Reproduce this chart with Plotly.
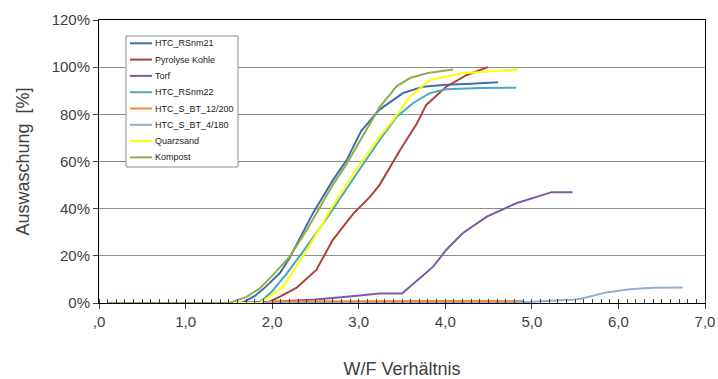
import plotly.graph_objects as go

# ---- data (x = W/F ratio, y = Auswaschung in %) ----
names = ["HTC_RSnm21", "Pyrolyse Kohle", "Torf", "HTC_RSnm22",
         "HTC_S_BT_12/200", "HTC_S_BT_4/180", "Quarzsand", "Kompost"]

htc21_x = [0.1, 1.65, 1.8, 1.9, 2.09, 2.2, 2.47, 2.7, 2.86, 3.03, 3.24, 3.51, 3.74, 4.01, 4.3, 4.61]
htc21_y = [0, 0, 3, 6, 12.7, 19, 38, 52, 60.6, 73, 82, 89, 91.7, 92.5, 93, 93.6]

pyro_x = [0.1, 1.94, 2.09, 2.28, 2.51, 2.7, 2.82, 2.94, 3.13, 3.24, 3.48, 3.67, 3.78, 4.01, 4.25, 4.49]
pyro_y = [0, 0, 2.7, 6.4, 14, 26.7, 32.4, 38, 45, 50, 65, 76, 84, 91.7, 96.7, 100]

torf_x = [0.1, 1.5, 2.0, 2.5, 2.86, 3.24, 3.5, 3.71, 3.86, 4.01, 4.2, 4.48, 4.82, 5.23, 5.47]
torf_y = [0, 0, 0.5, 1.5, 2.7, 4, 4, 10.6, 15.4, 22.5, 29.6, 36.6, 42.3, 47, 47]

htc22_x = [0.1, 1.85, 2.0, 2.17, 2.4, 2.67, 2.98, 3.24, 3.44, 3.63, 3.82, 4.01, 4.4, 4.82]
htc22_y = [0, 0, 5, 12.6, 24, 38, 55, 69, 79, 84.8, 89, 90.6, 91.2, 91.3]

bt12_x = [0.1, 1.9, 2.0, 3.0, 4.0, 4.9]
bt12_y = [0, 0, 0.6, 0.8, 0.8, 0.8]

bt4_x = [0.1, 4.6, 5.0, 5.3, 5.5, 5.59, 5.86, 6.13, 6.4, 6.74]
bt4_y = [0, 0, 0.5, 1.0, 1.5, 2, 4.5, 5.8, 6.5, 6.6]

quarz_x = [0.1, 1.86, 2.13, 2.4, 2.7, 2.94, 3.24, 3.4, 3.59, 3.82, 4.2, 4.84]
quarz_y = [0, 0, 7, 22.5, 41, 55, 70.5, 77.6, 87.5, 94.6, 97.4, 99]

kompost_x = [0.1, 1.5, 1.7, 1.85, 2.0, 2.2, 2.4, 2.55, 2.7, 2.86, 3.05, 3.24, 3.44, 3.6, 3.8, 4.09]
kompost_y = [0, 0, 2.5, 6, 11.5, 19.5, 31, 40.8, 50, 59, 71, 83, 92, 95.5, 97.5, 99]

xs = [htc21_x, pyro_x, torf_x, htc22_x, bt12_x, bt4_x, quarz_x, kompost_x]
ys = [htc21_y, pyro_y, torf_y, htc22_y, bt12_y, bt4_y, quarz_y, kompost_y]
colors = ["#3F6EAE", "#B0403D", "#7B5A9F", "#46A9C4", "#F08A3C", "#8FAEDA", "#FFFF00", "#8DAE4C"]

x_tickvals = [0, 1, 2, 3, 4, 5, 6, 7]
x_ticktext = [",0", "1,0", "2,0", "3,0", "4,0", "5,0", "6,0", "7,0"]
y_tickvals = [0, 20, 40, 60, 80, 100, 120]
y_ticktext = ["0%", "20%", "40%", "60%", "80%", "100%", "120%"]

fig = go.Figure()
for n, x, y, c in zip(names, xs, ys, colors):
    fig.add_trace(go.Scatter(x=x, y=y, name=n, mode="lines",
                             line=dict(color=c, width=2), cliponaxis=False))

font = "Liberation Sans, Arial, sans-serif"

# ---- legend box drawn in paper coordinates (plot area 606 x 283 px) ----
PW, PH = 606.0, 283.0
def px(v):  # pixel offset from plot left -> paper x
    return v / PW
def py(v):  # pixel offset from plot top -> paper y
    return 1 - v / PH

box_l, box_r, box_t, box_b = 27, 139, 16, 147
shapes = [dict(type="rect", xref="paper", yref="paper",
               x0=px(box_l), x1=px(box_r), y0=py(box_b), y1=py(box_t),
               line=dict(color="#8c8c8c", width=1), fillcolor="white", layer="above")]
annotations = []
for i, (n, c) in enumerate(zip(names, colors)):
    yc = 23.3 + i * 16.3
    shapes.append(dict(type="line", xref="paper", yref="paper",
                       x0=px(31), x1=px(53), y0=py(yc), y1=py(yc),
                       line=dict(color=c, width=2), layer="above"))
    annotations.append(dict(xref="paper", yref="paper", x=px(53.5), y=py(yc),
                            xanchor="left", yanchor="middle", text=n, showarrow=False,
                            font=dict(size=9, color="#222222", family=font)))

fig.update_layout(
    width=718, height=379,
    margin=dict(l=99, r=13, t=20, b=76),
    paper_bgcolor="white", plot_bgcolor="white",
    font=dict(family=font, color="#404040"),
    showlegend=False,
    shapes=shapes, annotations=annotations,
)
fig.update_xaxes(
    range=[0, 7], tickvals=x_tickvals, ticktext=x_ticktext, automargin=False,
    showgrid=False, zeroline=False,
    showline=True, linecolor="#000000", linewidth=1, mirror=True,
    ticks="outside", ticklen=5, tickcolor="#404040",
    minor=dict(dtick=0.1, ticks="inside", ticklen=4, tickcolor="#404040", showgrid=False),
    tickfont=dict(size=15, color="#404040"),
    title=dict(text="W/F Verhältnis", font=dict(size=18, color="#404040"), standoff=34),
)
fig.update_yaxes(
    range=[0, 120], tickvals=y_tickvals, ticktext=y_ticktext, automargin=False,
    showgrid=True, gridcolor="#8c8c8c", gridwidth=1, zeroline=False,
    showline=True, linecolor="#000000", linewidth=1, mirror=True,
    ticks="outside", ticklen=5, tickcolor="#404040",
    tickfont=dict(size=15, color="#404040"),
    title=dict(text="Auswaschung  [%]", font=dict(size=18, color="#404040"), standoff=17),
)
fig.write_html("out.html")
